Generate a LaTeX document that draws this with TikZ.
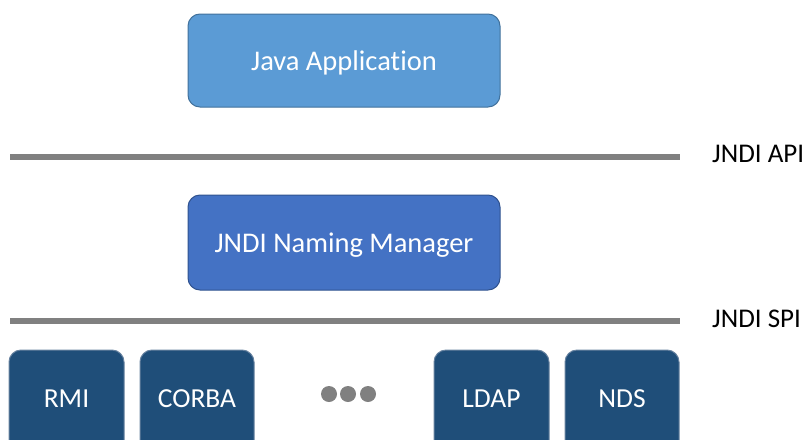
\documentclass[tikz,border=0pt]{standalone}
\usepackage{fontspec}
\setmainfont[Ligatures={NoCommon,NoDiscretionary}]{Carlito}
\definecolor{appfill}{HTML}{5B9BD5}
\definecolor{appline}{HTML}{41719C}
\definecolor{mgrfill}{HTML}{4472C4}
\definecolor{mgrline}{HTML}{2F528F}
\definecolor{spfill}{HTML}{1F4E79}
\definecolor{spline}{HTML}{8497B0}
\definecolor{bar}{HTML}{808080}
\begin{document}
\begin{tikzpicture}[x=1pt,y=-1pt,
  layerbox/.style={rounded corners=12pt, line width=1pt},
  layertext/.style={text=white, font=\fontsize{28.5}{32}\selectfont},
  provider/.style={rounded corners=12pt, line width=1pt, fill=spfill, draw=spline!70!spfill},
  provtext/.style={text=white, font=\fontsize{27.5}{31}\selectfont},
  barline/.style={line width=6pt, draw=bar},
  barlabel/.style={anchor=base west, inner sep=0pt, font=\fontsize{27}{30}\selectfont},
  dot/.style={circle, fill=bar, minimum size=16pt, inner sep=0pt}
]
\useasboundingbox (0,0) rectangle (810,439);
\clip (0,0) rectangle (810,439);

% application and naming manager layers
\draw[layerbox, fill=appfill, draw=appline] (188,14) rectangle (500,107);
\node[layertext] (app) at (344,63) {Java Application};
\draw[layerbox, fill=mgrfill, draw=mgrline] (188,195) rectangle (500,290);
\node[layertext] (mgr) at (344,245) {JNDI Naming Manager};

% interface bars
\coordinate (apiL) at (10,157);
\coordinate (apiR) at (680,157);
\coordinate (spiL) at (10,321);
\coordinate (spiR) at (680,321);
\draw[barline] (apiL) -- (apiR);
\draw[barline] (spiL) -- (spiR);
\node[barlabel] (api) at (712,162) {JNDI API};
\node[barlabel] (spi) at (712,327) {JNDI SPI};

% service providers
\draw[provider] (9,350) rectangle (124,460);
\draw[provider] (140,350) rectangle (254,460);
\draw[provider] (434,350) rectangle (549,460);
\draw[provider] (565,350) rectangle (679,460);
\node[provtext] (rmi) at (66.5,399) {RMI};
\node[provtext] (corba) at (197,399) {CORBA};
\node[provtext] (ldap) at (491.5,399) {LDAP};
\node[provtext] (nds) at (622,399) {NDS};

% ellipsis
\node[dot] (d1) at (329,394) {};
\node[dot] (d2) at (348,394) {};
\node[dot] (d3) at (368,394) {};
\end{tikzpicture}
\end{document}
